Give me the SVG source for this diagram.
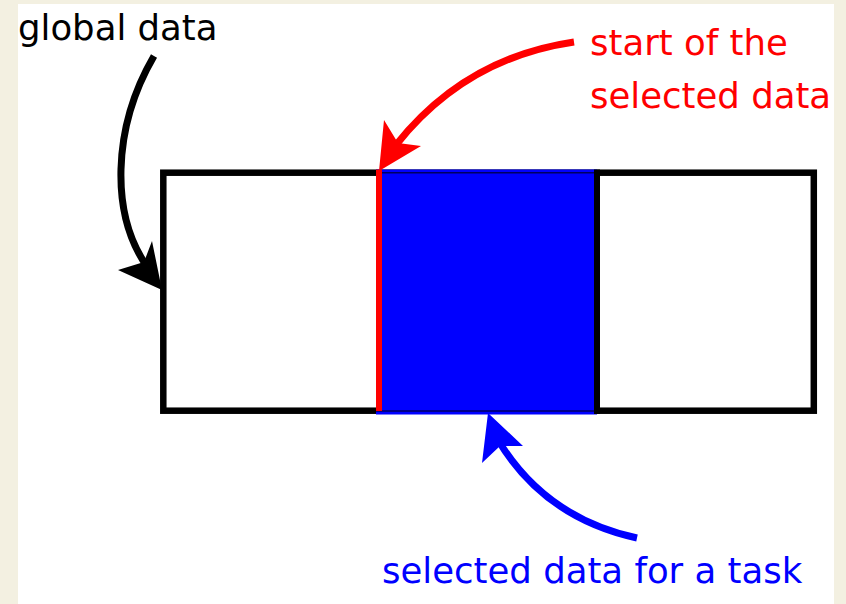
<svg xmlns="http://www.w3.org/2000/svg" width="846" height="604" viewBox="0 0 846 604">
<style>
text{font-family:"DejaVu Sans","Noto Sans",sans-serif;font-size:35.5px}
.conn{fill:none;stroke-width:7}
</style>
<rect x="0" y="0" width="846" height="604" fill="#f3f0e1"/>
<rect x="18" y="4" width="816" height="600" fill="#ffffff"/>
<g id="global-data">
<rect x="163.3" y="172.7" width="650.5" height="238" fill="#ffffff" stroke="#000000" stroke-width="6.5"/>
</g>
<g id="selected-data">
<rect x="376" y="169.5" width="221" height="245" fill="#0000ff"/>
<line x1="376" y1="172.7" x2="597" y2="172.7" stroke="#000060" stroke-width="1.5"/>
<line x1="376" y1="411" x2="597" y2="411" stroke="#000060" stroke-width="1.5"/>
<line x1="597" y1="169.5" x2="597" y2="414" stroke="#000000" stroke-width="6"/>
<line x1="379" y1="169.5" x2="379" y2="411" stroke="#ff0000" stroke-width="6"/>
</g>
<g id="connectors">
<path class="conn" stroke="#000000" d="M154,56 C112,128 110,215 148,268"/>
<path d="M162,290 L118,270 L144,262 L152,241 Z" fill="#000000"/>
<path class="conn" stroke="#ff0000" d="M574,42 Q465,58 396,145"/>
<path d="M379,171 L384,120 L398,143 L421,146 Z" fill="#ff0000"/>
<path class="conn" stroke="#0000ff" d="M637,538 Q545,518 498,440"/>
<path d="M488,413 L523,446 L500,446 L482,463 Z" fill="#0000ff"/>
</g>
<g id="label-global">
<text x="18" y="40" fill="#000000">global data</text>
</g>
<g id="label-start">
<text x="590" y="55" fill="#ff0000">start of the</text>
<text x="590" y="108" fill="#ff0000">selected data</text>
</g>
<g id="label-task">
<text x="382" y="583" fill="#0000ff">selected data for a task</text>
</g>
</svg>
